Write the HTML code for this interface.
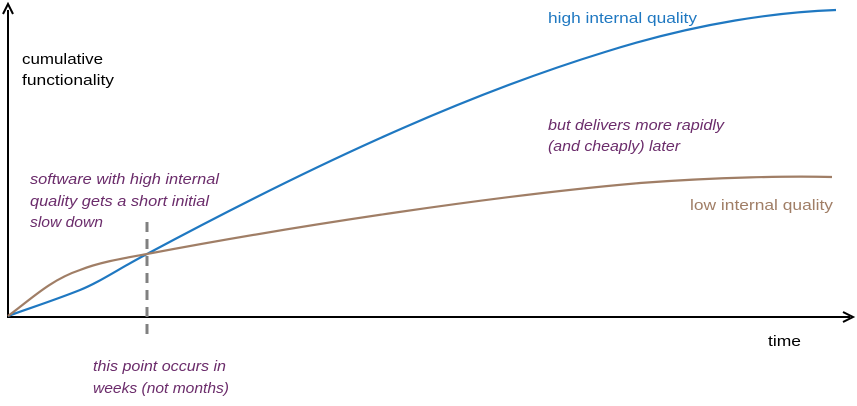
<!DOCTYPE html>
<html><head><style>
html,body{margin:0;padding:0;background:#fff;}
svg{display:block;}
text{font-family:"Liberation Sans",sans-serif;font-size:15px;}
.p{fill:#6b2c6b;font-style:italic;}
</style></head><body>
<svg width="857" height="406" viewBox="0 0 857 406">
<line x1="8" y1="318" x2="8" y2="10" stroke="#000" stroke-width="2"/>
<polyline points="3,14 8,4 13,14" fill="none" stroke="#000" stroke-width="2"/>
<line x1="7" y1="317" x2="850" y2="317" stroke="#000" stroke-width="2"/>
<polyline points="843,312 853,317 843,322" fill="none" stroke="#000" stroke-width="2"/>
<line x1="147" y1="222" x2="147" y2="336" stroke="#808080" stroke-width="3" stroke-dasharray="10,7"/>
<path d="M8,316 C30,308 55,300 80,290 C100,282 120,268 147,254 C300,172 455,98 605,52 C700,22 780,12 836,10" fill="none" stroke="#1f78c1" stroke-width="2.2"/>
<path d="M8,316 C30,300 50,280 80,270 C100,262 125,258 147,254 C300,225 500,195 640,183 C720,177 790,176 832,177" fill="none" stroke="#a07e66" stroke-width="2.2"/>
<text x="22" y="64" textLength="81" lengthAdjust="spacingAndGlyphs">cumulative</text>
<text x="22" y="85" textLength="92" lengthAdjust="spacingAndGlyphs">functionality</text>
<text x="768" y="346" textLength="33" lengthAdjust="spacingAndGlyphs">time</text>
<text x="548" y="23" fill="#1f78c1" textLength="149" lengthAdjust="spacingAndGlyphs">high internal quality</text>
<text x="690" y="210" fill="#a07e66" textLength="143" lengthAdjust="spacingAndGlyphs">low internal quality</text>
<text class="p" x="548" y="130" textLength="176" lengthAdjust="spacingAndGlyphs">but delivers more rapidly</text>
<text class="p" x="548" y="151" textLength="132" lengthAdjust="spacingAndGlyphs">(and cheaply) later</text>
<text class="p" x="30" y="184" textLength="189" lengthAdjust="spacingAndGlyphs">software with high internal</text>
<text class="p" x="30" y="206" textLength="179" lengthAdjust="spacingAndGlyphs">quality gets a short initial</text>
<text class="p" x="30" y="227" textLength="73" lengthAdjust="spacingAndGlyphs">slow down</text>
<text class="p" x="93" y="371" textLength="133" lengthAdjust="spacingAndGlyphs">this point occurs in</text>
<text class="p" x="93" y="393" textLength="136" lengthAdjust="spacingAndGlyphs">weeks (not months)</text>
</svg>
</body></html>
